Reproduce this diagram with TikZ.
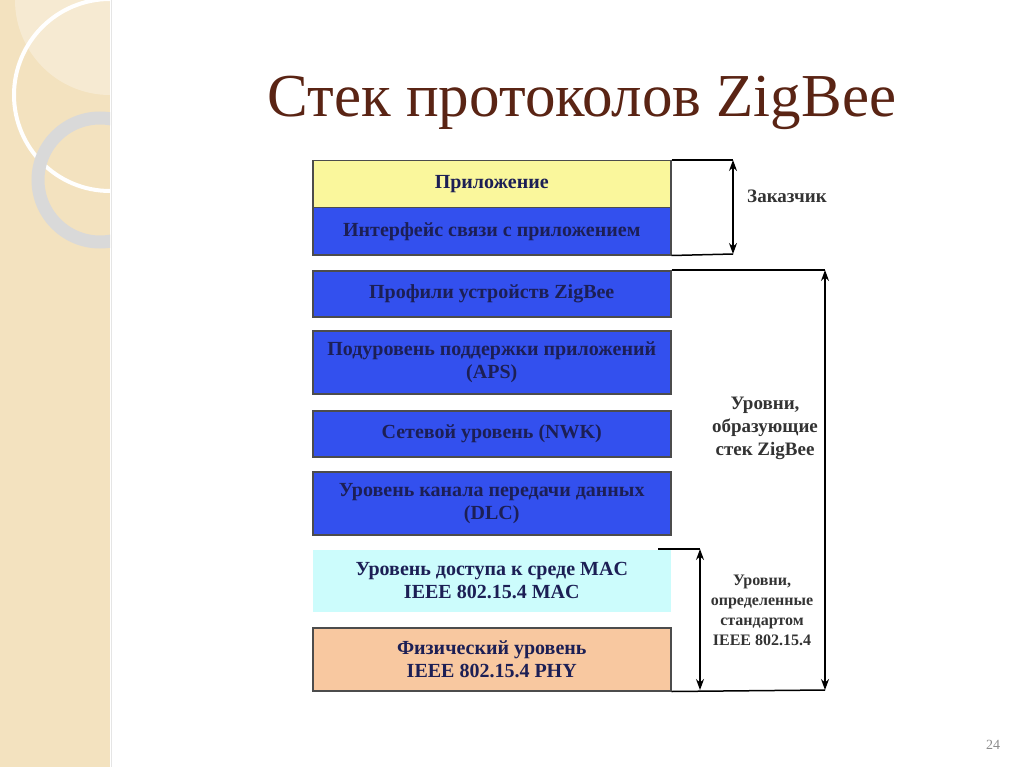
\documentclass[tikz,border=0pt]{standalone}
\usepackage{fontspec}
\setmainfont{Liberation Serif}
\usetikzlibrary{arrows.meta}
\definecolor{beige}{HTML}{F3E2BF}
\definecolor{titlec}{HTML}{5A2414}
\definecolor{bl}{HTML}{3350EE}
\definecolor{yl}{HTML}{FAF79C}
\definecolor{cy}{HTML}{CCFCFC}
\definecolor{orc}{HTML}{F8C8A0}
\definecolor{txt}{HTML}{1C1F55}
\begin{document}
\begin{tikzpicture}[x=1pt,y=-1pt,
  layer/.style={draw=black!70,line width=1.5pt,minimum width=358pt,inner sep=0pt,font=\bfseries\fontsize{20}{23}\selectfont,text=txt,align=center,anchor=north west},
  dim/.style={line width=1.5pt,{Stealth[length=11pt,width=8pt]}-{Stealth[length=11pt,width=8pt]}},
  lbl/.style={font=\bfseries\fontsize{19}{23}\selectfont,text=black!80,align=center}]
\useasboundingbox (0,0) rectangle (1024,767);
\fill[white] (0,0) rectangle (1024,767);
\begin{scope}
\clip (0,0) rectangle (110,767);
\fill[beige] (0,0) rectangle (110,767);
\fill[white,opacity=0.3] (110,0) circle (95);
\draw[white,line width=4pt] (110,95) circle (96);
\draw[black!15,line width=13pt] (100,180) circle (62);
\end{scope}
\draw[black!10] (111,0) -- (111,767);
\node[font=\fontsize{61}{64}\selectfont,text=titlec] (title) at (582,103) {Стек протоколов ZigBee};
\node[layer,fill=yl,minimum height=47pt] (app) at (312,160) {Приложение};
\node[layer,fill=bl,minimum height=47pt] (api) at (312,207) {Интерфейс связи с приложением};
\node[layer,fill=bl,minimum height=46pt] (prof) at (312,270) {Профили устройств ZigBee};
\node[layer,fill=bl,minimum height=63pt] (aps) at (312,330) {Подуровень поддержки приложений\\(APS)};
\node[layer,fill=bl,minimum height=46pt] (nwk) at (312,410) {Сетевой уровень (NWK)};
\node[layer,fill=bl,minimum height=63pt] (dlc) at (312,471) {Уровень канала передачи данных\\(DLC)};
\node[layer,draw=none,fill=cy,minimum height=62pt] (mac) at (312,549) {Уровень доступа к среде MAC\\IEEE 802.15.4 MAC};
\node[layer,fill=orc,minimum height=63pt] (phy) at (312,627) {Физический уровень\\IEEE 802.15.4 PHY};
\coordinate (a1) at (733,160); \coordinate (a2) at (733,254);
\draw[line width=1.5pt] (app.north east) -- (a1);
\draw[line width=1.5pt] (api.south east) -- (a2);
\draw[dim] (a1) -- (a2);
\coordinate (b1) at (825,270); \coordinate (b2) at (825,690);
\draw[line width=1.5pt] (prof.north east) -- (b1);
\draw[line width=1.5pt] (phy.south east) -- (b2);
\draw[dim] (b1) -- (b2);
\coordinate (c0) at (658,549); \coordinate (c1) at (700,549); \coordinate (c2) at (700,690);
\draw[line width=1.5pt] (c0) -- (c1);
\draw[dim] (c1) -- (c2);
\node[lbl] (l1) at (787,196) {Заказчик};
\node[lbl] (l2) at (765,428) {Уровни,\\образующие\\стек ZigBee};
\node[lbl,font=\bfseries\fontsize{16}{20}\selectfont] (l3) at (762,610) {Уровни,\\определенные\\стандартом\\IEEE 802.15.4};
\node[text=black!45,font=\fontsize{14}{16}\selectfont] (pg) at (993,745) {24};
\end{tikzpicture}
\end{document}
